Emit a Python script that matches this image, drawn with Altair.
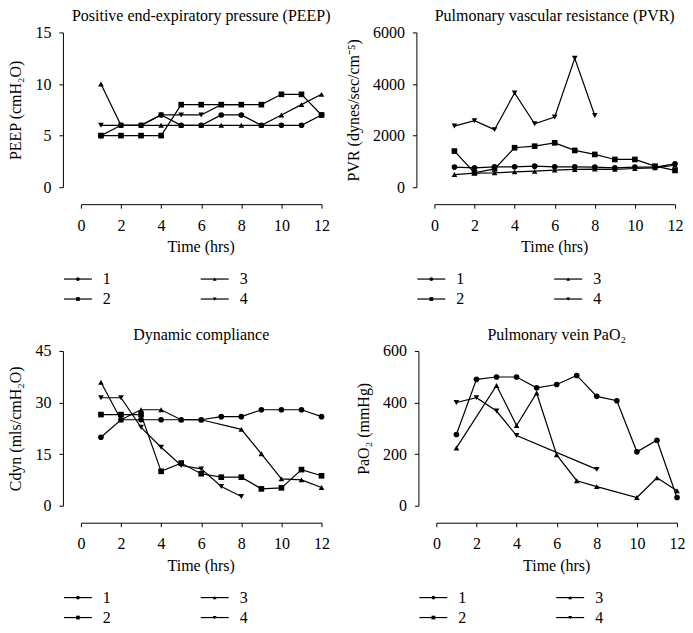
import altair as alt
import pandas as pd

FONT = "Liberation Serif"

hours = [1, 2, 3, 4, 5, 6, 7, 8, 9, 10, 11, 12]
series_names = ["1", "2", "3", "4"]

# Positive end-expiratory pressure (cmH2O)
peep_1 = [5, 6, 6, 7, 6, 6, 7, 7, 6, 6, 6, 7]
peep_2 = [5, 5, 5, 5, 8, 8, 8, 8, 8, 9, 9, 7]
peep_3 = [10, 6, 6, 6, 6, 6, 6, 6, 6, 7, 8, 9]
peep_4 = [6, 6, 6, 7, 7, 7, 8, 8, None, None, None, None]

# Pulmonary vascular resistance (dynes/sec/cm^-5)
pvr_1 = [780, 750, 790, 790, 815, 790, 790, 780, 750, 780, 780, 905]
pvr_2 = [1400, 560, 710, 1530, 1590, 1720, 1425, 1270, 1075, 1075, 815, 650]
pvr_3 = [490, 545, 557, 595, 620, 660, 687, 700, 690, 725, 750, 850]
pvr_4 = [2370, 2580, 2230, 3650, 2460, 2720, 5000, 2780, None, None, None, None]

# Dynamic compliance (mls/cmH2O)
cdyn_1 = [19.9, 25.0, 25.0, 25.0, 25.0, 25.0, 25.9, 25.9, 27.9, 27.9, 27.9, 25.9]
cdyn_2 = [26.5, 26.5, 26.5, 10.0, 12.4, 9.3, 8.3, 8.3, 4.9, 5.2, 10.5, 8.7]
cdyn_3 = [35.9, 25.0, 27.9, 27.9, 25.0, 25.0, None, 22.2, 15.1, 7.8, 7.5, 5.3]
cdyn_4 = [31.4, 31.4, 22.8, 17.0, 11.7, 10.7, 5.6, 2.7, None, None, None, None]

# Pulmonary vein PaO2 (mmHg)
pao2_1 = [276, 490, 499, 499, 457, 470, 505, 424, 407, 209, 254, 32]
pao2_2 = [None] * 12
pao2_3 = [224, None, 466, 311, 437, 197, 97, 74, None, 32, 108, 58]
pao2_4 = [400, 419, 367, 272, None, None, None, 141, None, None, None, None]

x_ticks = [0, 2, 4, 6, 8, 10, 12]
x_title = "Time (hrs)"
legend_col = [0, 0, 1, 1]
legend_row = [0, 1, 0, 1]

shape_scale = alt.Scale(domain=series_names,
                        range=["circle", "square", "triangle-up", "triangle-down"])


def long_df(series):
    rows = []
    for name, vals in zip(series_names, series):
        for t, v in zip(hours, vals):
            if v is not None:
                rows.append({"t": t, "v": v, "s": name})
    return pd.DataFrame(rows, columns=["t", "v", "s"])


legend_df = pd.DataFrame({"s": series_names, "lx": legend_col, "ly": legend_row})
xtitle_df = pd.DataFrame({"txt": [x_title], "tx": [6], "ty": [0]})

W, H = 241, 155


def panel(series, title, ytitle, ymax, ystep):
    df = long_df(series)
    xs = alt.Scale(domain=[0, 12], nice=False, zero=False)
    ys = alt.Scale(domain=[0, ymax], nice=False)
    x_axis = alt.Axis(values=x_ticks, title=None, offset=17, labelPadding=9,
                      labelFlush=False, format="d")
    y_axis = alt.Axis(values=list(range(0, ymax + 1, ystep)), title=ytitle, offset=18,
                      labelPadding=8, titlePadding=11, titleFontWeight=400,
                      format="d")
    lines = alt.Chart(df).mark_line(color="black", strokeWidth=1.2).encode(
        x=alt.X("t:Q", scale=xs, axis=x_axis),
        y=alt.Y("v:Q", scale=ys, axis=y_axis),
        detail="s:N",
    )
    pts = alt.Chart(df).mark_point(filled=True, color="black", opacity=1, size=32).encode(
        x=alt.X("t:Q", scale=xs, axis=None),
        y=alt.Y("v:Q", scale=ys, axis=None),
        shape=alt.Shape("s:N", scale=shape_scale, legend=None),
    )
    xt = alt.Chart(xtitle_df).mark_text(font=FONT, fontSize=16, fontWeight="normal",
                                        color="black", baseline="middle",
                                        align="center").encode(
        x=alt.X("tx:Q", scale=xs, axis=None),
        y=alt.Y("ty:Q", scale=alt.Scale(domain=[0, 1], range=[H + 60, H]), axis=None),
        text="txt:N",
    )
    lxs = alt.Scale(domain=[0, 1], range=[-3, 134])
    lys = alt.Scale(domain=[0, 1], range=[H + 92, H + 112])
    leg = alt.Chart(legend_df)
    leg_line = leg.mark_point(shape="stroke", size=784, filled=False, color="black",
                              strokeWidth=1.2, opacity=1).encode(
        x=alt.X("lx:Q", scale=lxs, axis=None),
        y=alt.Y("ly:Q", scale=lys, axis=None),
    )
    leg_pts = leg.mark_point(filled=True, color="black", opacity=1, size=14).encode(
        x=alt.X("lx:Q", scale=lxs, axis=None),
        y=alt.Y("ly:Q", scale=lys, axis=None),
        shape=alt.Shape("s:N", scale=shape_scale, legend=None),
    )
    leg_txt = leg.mark_text(align="left", baseline="middle", dx=25, font=FONT,
                            fontSize=16, color="black").encode(
        x=alt.X("lx:Q", scale=lxs, axis=None),
        y=alt.Y("ly:Q", scale=lys, axis=None),
        text="s:N",
    )
    return alt.layer(lines, pts, xt, leg_line, leg_pts, leg_txt).resolve_scale(
        x="independent", y="independent"
    ).properties(
        width=W, height=H,
        title=alt.TitleParams(title, font=FONT, fontSize=16, fontWeight="normal",
                              anchor="middle", color="black", offset=0),
    )


p1 = panel([peep_1, peep_2, peep_3, peep_4], "Positive end-expiratory pressure (PEEP)",
           "PEEP (cmH₂O)", 15, 5)
p2 = panel([pvr_1, pvr_2, pvr_3, pvr_4], "Pulmonary vascular resistance (PVR)",
           "PVR (dynes/sec/cm⁻⁵)", 6000, 2000)
p3 = panel([cdyn_1, cdyn_2, cdyn_3, cdyn_4], "Dynamic compliance",
           "Cdyn (mls/cmH₂O)", 45, 15)
p4 = panel([pao2_1, pao2_2, pao2_3, pao2_4], "Pulmonary vein PaO₂",
           "PaO₂ (mmHg)", 600, 200)

chart = alt.vconcat(
    alt.hconcat(p1, p2, spacing=14),
    alt.hconcat(p3, p4, spacing=26),
    spacing=20,
).properties(padding=0).configure_view(stroke=None).configure_axis(
    labelFont=FONT, titleFont=FONT, labelFontSize=16, titleFontSize=16,
    titleFontWeight=400, labelColor="black", titleColor="black",
    domainColor="black", tickColor="black", tickSize=4, domainWidth=1, tickWidth=1,
    grid=False,
)

chart.save("out.html", embed_options={"renderer": "svg", "actions": False})
